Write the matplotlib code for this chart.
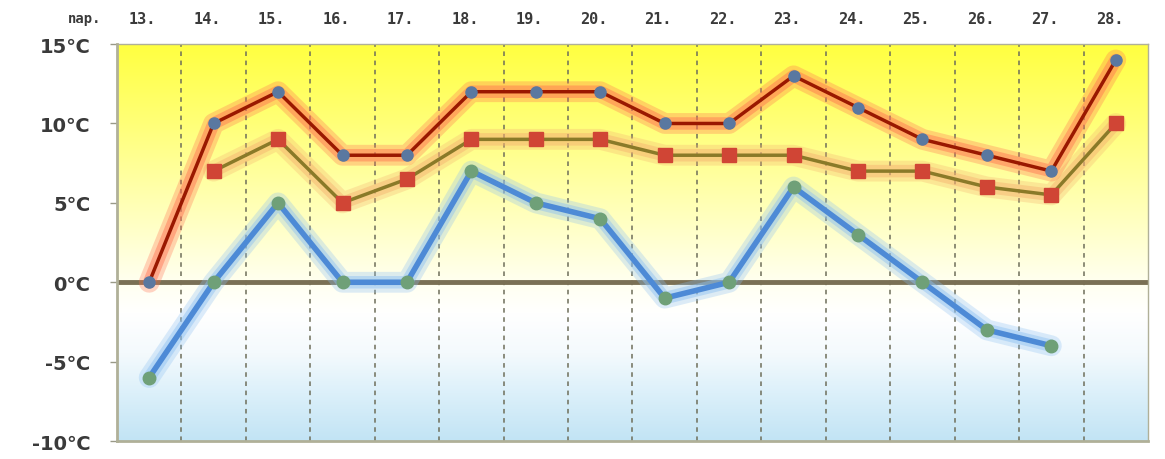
import numpy as np
import matplotlib.pyplot as plt
from matplotlib.colors import LinearSegmentedColormap

# daily temperatures, 13th to 28th
days = ['13.', '14.', '15.', '16.', '17.', '18.', '19.', '20.',
        '21.', '22.', '23.', '24.', '25.', '26.', '27.', '28.']
t_max = [0, 10, 12, 8, 8, 12, 12, 12, 10, 10, 13, 11, 9, 8, 7, 14]
t_avg = [np.nan, 7, 9, 5, 6.5, 9, 9, 9, 8, 8, 8, 7, 7, 6, 5.5, 10]
t_min = [-6, 0, 5, 0, 0, 7, 5, 4, -1, 0, 6, 3, 0, -3, -4, np.nan]
y_ticks = [15, 10, 5, 0, -5, -10]

fig = plt.figure(figsize=(11.65, 4.6), dpi=100)
ax = fig.add_axes([0.1004, 0.039, 0.8850, 0.863])

n = len(days)
x = np.arange(n) + 0.5
ax.set_xlim(0, n)
ax.set_ylim(-10, 15)

# background: yellow above zero fading into light blue below
bg = LinearSegmentedColormap.from_list('bg', [
    (0.00, '#c2e4f5'),
    (0.12, '#dcf0fa'),
    (0.22, '#f4fafd'),
    (0.32, '#ffffff'),
    (0.40, '#fffff0'),
    (0.60, '#ffffb4'),
    (0.80, '#ffff78'),
    (1.00, '#ffff40'),
])
grad = np.linspace(0, 1, 256).reshape(-1, 1)
ax.imshow(grad, cmap=bg, aspect='auto', origin='lower',
          extent=[0, n, -10, 15], zorder=0)

# day separators
for xv in range(1, n):
    ax.axvline(xv, color='#6e6e5a', lw=1.1, ls=(0, (3, 3)), zorder=1)
ax.axhline(0, color='#7a7055', lw=3.5, zorder=2)

def glow_line(y, line_c, glow_c, glow_w, line_w, marker, mc, ms):
    ax.plot(x, y, color=glow_c, lw=glow_w, alpha=0.3,
            solid_capstyle='round', solid_joinstyle='round', zorder=3)
    ax.plot(x, y, color=glow_c, lw=glow_w * 0.6, alpha=0.45,
            solid_capstyle='round', solid_joinstyle='round', zorder=3)
    ax.plot(x, y, color=line_c, lw=line_w, zorder=4,
            marker=marker, mfc=mc, mec=mc, ms=ms)

glow_line(t_min, '#4d8ad6', '#8cc0f2', 15, 4, 'o', '#6fa078', 9)
glow_line(t_avg, '#8a7a28', '#f5b070', 15, 2.5, 's', '#d04535', 10)
glow_line(t_max, '#9a1800', '#ff7050', 15, 2.5, 'o', '#5a78a0', 8)

ax.set_xticks([])
ax.set_yticks(y_ticks)
ax.set_yticklabels([f'{v}\u2103' for v in y_ticks], fontsize=14,
                   fontweight='bold', color='#3a3a3a')
ax.tick_params(axis='y', length=5, width=1, color='#999988', pad=14)

for side in ['left', 'bottom', 'top', 'right']:
    ax.spines[side].set_color('#b0b098')
    ax.spines[side].set_linewidth(1)
ax.spines['left'].set_linewidth(2)
ax.spines['bottom'].set_linewidth(2)

# date labels above the plot
top = ax.get_xaxis_transform()
for xi, d in zip(x, days):
    ax.text(xi - 0.1, 1.065, d, transform=top, ha='center', va='center',
            fontsize=11, fontweight='bold', family='DejaVu Sans Mono',
            color='#3a3a3a')
ax.text(-0.5, 1.065, 'nap.', transform=top, ha='center', va='center',
        fontsize=10, fontweight='bold', family='DejaVu Sans Mono',
        color='#3a3a3a')

plt.savefig('out.png', dpi=100)
